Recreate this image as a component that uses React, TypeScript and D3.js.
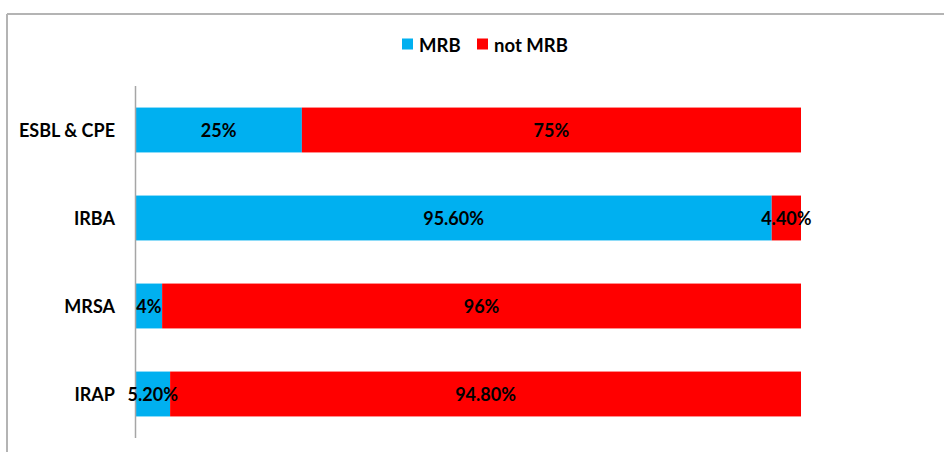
import React from "react";
import * as d3 from "d3";

// Share of multi-resistant bacteria (MRB) per organism group, in percent
const categories = ["ESBL & CPE", "IRBA", "MRSA", "IRAP"];
const mrbValues = [25, 95.6, 4, 5.2];
const notMrbValues = [75, 4.4, 96, 94.8];
const mrbLabels = ["25%", "95.60%", "4%", "5.20%"];
const notMrbLabels = ["75%", "4.40%", "96%", "94.80%"];
const seriesNames = ["MRB", "not MRB"];
const seriesColors = ["#00B0F0", "#FF0000"];

const W = 944;
const H = 452;
const FONT = "Lato, 'Open Sans', sans-serif";
const FS = 18;

export default function App() {
  const x = d3.scaleLinear().domain([0, 100]).range([135.5, 801]);
  const y = d3.scaleBand<string>().domain(categories).range([86, 438]).paddingInner(0.49).paddingOuter(0.245);

  const rows = categories.map((c, i) => {
    const segs = [
      { v0: 0, v1: mrbValues[i], color: seriesColors[0], label: mrbLabels[i] },
      { v0: mrbValues[i], v1: mrbValues[i] + notMrbValues[i], color: seriesColors[1], label: notMrbLabels[i] },
    ];
    return { c, segs };
  });

  const legendX = [402, 477];

  return (
    <div style={{ position: "fixed", left: 0, top: 0, width: W, height: H, background: "#fff" }}>
      <svg width={W} height={H} style={{ display: "block" }} fontFamily={FONT}>
        <rect x={0} y={0} width={W} height={H} fill="#fff" />
        {/* chart frame (top and left edges) */}
        <line x1={7} x2={W} y1={14} y2={14} stroke="#b4b4b4" strokeWidth={2} />
        <line x1={7} x2={7} y1={14} y2={H} stroke="#b4b4b4" strokeWidth={2} />

        {/* legend */}
        {seriesNames.map((n, i) => (
          <g key={n}>
            <rect x={legendX[i]} y={38.5} width={11} height={11} fill={seriesColors[i]} />
            <text x={legendX[i] + 17} y={44.5} dominantBaseline="central" fontSize={18.5} fontWeight={700} fill="#000">
              {n}
            </text>
          </g>
        ))}

        {/* bars */}
        {rows.map((r) => (
          <g key={r.c}>
            {r.segs.map((s, j) => (
              <rect key={j} x={x(s.v0)} y={y(r.c)!} width={x(s.v1) - x(s.v0)} height={y.bandwidth()} fill={s.color} />
            ))}
          </g>
        ))}

        {/* category axis */}
        <line x1={135.5} x2={135.5} y1={86} y2={438} stroke="#a6a6a6" strokeWidth={1.5} />
        {categories.map((c) => (
          <text key={c} x={115} y={y(c)! + y.bandwidth() / 2} textAnchor="end" dominantBaseline="central" fontSize={FS} fontWeight={700} fill="#000">
            {c}
          </text>
        ))}

        {/* data labels */}
        {rows.map((r) =>
          r.segs.map((s, j) => (
            <text
              key={r.c + j}
              x={(x(s.v0) + x(s.v1)) / 2}
              y={y(r.c)! + y.bandwidth() / 2}
              textAnchor="middle"
              dominantBaseline="central"
              fontSize={FS}
              fontWeight={700}
              fill="#000"
            >
              {s.label}
            </text>
          ))
        )}
      </svg>
    </div>
  );
}
